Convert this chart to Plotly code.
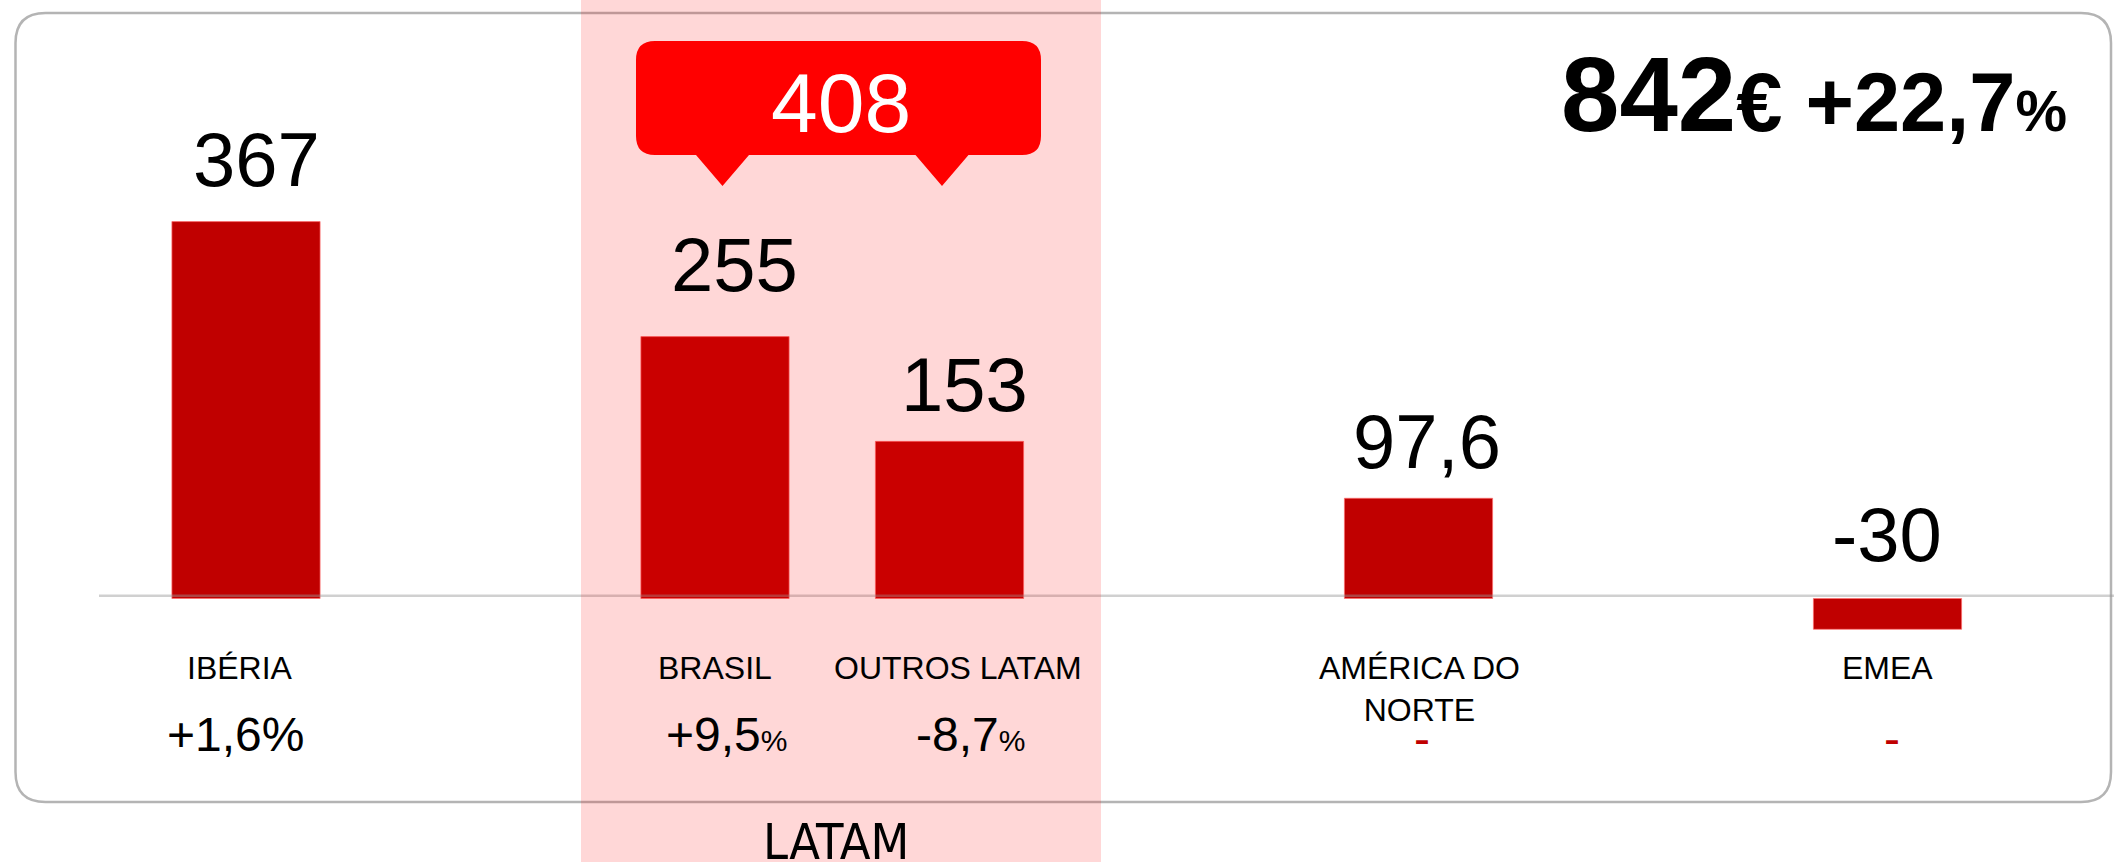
import plotly.graph_objects as go

# ---------------- data ----------------
categories = ["IBÉRIA", "BRASIL", "OUTROS LATAM", "AMÉRICA DO<br>NORTE", "EMEA"]
values = [367, 255, 153, 97.6, -30]
growth = [1.6, 9.5, -8.7, None, None]          # % vs previous year (None -> "-")
latam_members = ["BRASIL", "OUTROS LATAM"]
total_value = 842
total_growth = 22.7
group_label = "LATAM"

# ---------------- layout helpers (not data) ----------------
slots = [0, 2, 3, 5, 7]                 # horizontal slot of each category
small_pct = [False, True, True, False, False]
val_dx = [10, 19, 15, 8, -1]            # pixel nudges of value labels
val_dy = [62, 72, 57, 57, 64]
cat_dx = [-6, 0, 8, 1, 0]
pct_dx = [-11, 11, 21, 3, 4]

W, H = 2114, 862
X0_PX, UNIT_PX = 246.0, 234.5            # pixel of slot 0, pixels per slot
ZERO_PX, PX_PER_VAL = 598.5, 1.027       # pixel of value 0, pixels per unit
FONT = "Arial, Liberation Sans, sans-serif"
BAR_RED = "#C00000"


def fx(p):
    return p / W


def fy(p):
    return 1 - p / H


def fmt(v):
    if float(v).is_integer():
        return str(int(v))
    return f"{v:.1f}".replace(".", ",")


def path_from(cmds):
    out = []
    for c in cmds:
        if c == "Z":
            out.append("Z")
            continue
        op, pts = c[0], c[1:]
        out.append(op + " ".join(f"{fx(x):.6f},{fy(y):.6f}" for x, y in pts))
    return " ".join(out)


def rounded_rect(x0, y0, x1, y1, r):
    return path_from([
        ("M", (x0 + r, y0)), ("L", (x1 - r, y0)), ("Q", (x1, y0), (x1, y0 + r)),
        ("L", (x1, y1 - r)), ("Q", (x1, y1), (x1 - r, y1)),
        ("L", (x0 + r, y1)), ("Q", (x0, y1), (x0, y1 - r)),
        ("L", (x0, y0 + r)), ("Q", (x0, y0), (x0 + r, y0)), "Z"])


def callout(x0, y0, x1, y1, r, tips, half, tip_y):
    cmds = [("M", (x0 + r, y0)), ("L", (x1 - r, y0)), ("Q", (x1, y0), (x1, y0 + r)),
            ("L", (x1, y1 - r)), ("Q", (x1, y1), (x1 - r, y1))]
    for t in sorted(tips, reverse=True):
        cmds += [("L", (t + half, y1)), ("L", (t, tip_y)), ("L", (t - half, y1))]
    cmds += [("L", (x0 + r, y1)), ("Q", (x0, y1), (x0, y1 - r)),
             ("L", (x0, y0 + r)), ("Q", (x0, y0), (x0 + r, y0)), "Z"]
    return path_from(cmds)


fig = go.Figure()
fig.add_trace(go.Bar(
    x=slots, y=values, width=0.632,
    marker=dict(color=BAR_RED, line=dict(color="rgba(255,110,110,0.7)", width=1)),
    hoverinfo="skip",
))

annotations = []
for i, (s, v, cat, g, sm) in enumerate(zip(slots, values, categories, growth, small_pct)):
    # value label above the bar (or above zero for negatives)
    annotations.append(dict(
        x=s, y=max(v, 0), xref="x", yref="y", text=fmt(v), showarrow=False,
        xanchor="center", yanchor="middle", xshift=val_dx[i], yshift=val_dy[i],
        font=dict(family=FONT, size=76, color="#000000")))
    # category label
    annotations.append(dict(
        x=s, y=0, xref="x", yref="y", text=cat, showarrow=False,
        xanchor="center", yanchor="top", xshift=cat_dx[i], yshift=-49,
        font=dict(family=FONT, size=32, color="#000000")))
    # growth label
    if g is None:
        txt, col, dy = "-", BAR_RED, -140
    else:
        num = ("+" if g > 0 else "") + fmt(g)
        txt = num + ("<span style='font-size:30px'>%</span>" if sm else "%")
        col, dy = "#000000", -136
    annotations.append(dict(
        x=s, y=0, xref="x", yref="y", text=txt, showarrow=False,
        xanchor="center", yanchor="middle", xshift=pct_dx[i], yshift=dy,
        font=dict(family=FONT, size=48, color=col)))

latam_total = sum(v for c, v in zip(categories, values) if c in latam_members)
annotations.append(dict(
    x=fx(841), y=fy(103), xref="paper", yref="paper", text=fmt(latam_total),
    showarrow=False, xanchor="center", yanchor="middle",
    font=dict(family=FONT, size=84, color="#FFFFFF")))

annotations.append(dict(
    x=fx(2069), y=fy(155), xref="paper", yref="paper",
    text=(f"<b><span style='font-size:105px'>{total_value}</span>€ +"
          f"{fmt(total_growth)}<span style='font-size:58px'>%</span></b>"),
    showarrow=False, xanchor="right", yanchor="bottom",
    font=dict(family=FONT, size=83, color="#000000")))

annotations.append(dict(
    x=fx(836), y=fy(842), xref="paper", yref="paper", text=group_label,
    showarrow=False, xanchor="center", yanchor="middle",
    font=dict(family="Liberation Sans Narrow, Arial Narrow, DejaVu Sans Condensed, sans-serif",
              size=50, color="#000000")))

shapes = [
    # outer rounded frame
    dict(type="path", xref="paper", yref="paper", path=rounded_rect(15.5, 13, 2111, 802, 30),
         line=dict(color="#B4B4B4", width=2.5), fillcolor="rgba(0,0,0,0)", layer="below"),
    # baseline
    dict(type="line", xref="paper", x0=fx(99), x1=1, yref="y", ysizemode="pixel",
         yanchor=0, y0=2.8, y1=2.8, line=dict(color="rgba(150,150,150,0.45)", width=2.5),
         layer="above"),
    # LATAM band
    dict(type="rect", xref="paper", yref="paper", x0=fx(581), x1=fx(1101), y0=0, y1=1,
         fillcolor="rgba(255,0,0,0.157)", line=dict(width=0), layer="above"),
    # LATAM callout
    dict(type="path", xref="paper", yref="paper",
         path=callout(636, 41, 1041, 155, 19, [722.5, 942], 26.5, 186),
         fillcolor="#FF0000", line=dict(width=0), layer="above"),
]

fig.update_layout(
    width=W, height=H, margin=dict(l=0, r=0, t=0, b=0, pad=0),
    paper_bgcolor="#FFFFFF", plot_bgcolor="rgba(0,0,0,0)", showlegend=False,
    xaxis=dict(range=[-X0_PX / UNIT_PX, (W - X0_PX) / UNIT_PX], visible=False, fixedrange=True),
    yaxis=dict(range=[(ZERO_PX - H) / PX_PER_VAL, ZERO_PX / PX_PER_VAL], visible=False,
               fixedrange=True),
    annotations=annotations, shapes=shapes,
)

fig.write_html("out.html", config={"displayModeBar": False},
               post_script="document.body.style.margin='0';document.body.style.overflow='hidden';")
